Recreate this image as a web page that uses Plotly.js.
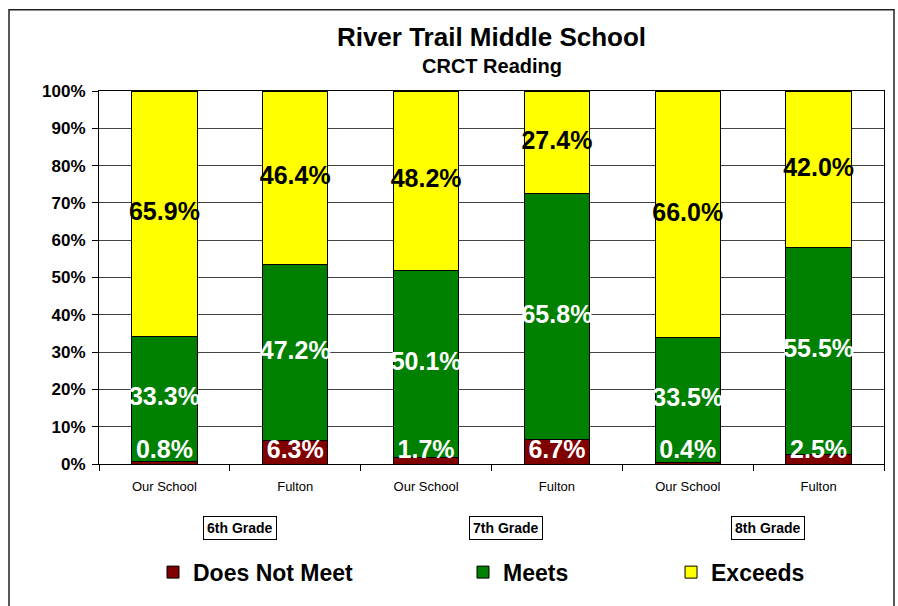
<!DOCTYPE html>
<html>
<head>
<meta charset="utf-8">
<script src="https://cdn.plot.ly/plotly-3.0.1.min.js"></script>
<style>html,body{margin:0;padding:0;background:#fff;}#chart{width:898px;height:606px;}</style>
</head>
<body>
<div id="chart"></div>
<script>
const grades = ['6th Grade', '6th Grade', '7th Grade', '7th Grade', '8th Grade', '8th Grade'];
const schools = ['Our School', 'Fulton', 'Our School', 'Fulton', 'Our School', 'Fulton'];
const doesNotMeet = [0.8, 6.3, 1.7, 6.7, 0.4, 2.5];
const meets = [33.3, 47.2, 50.1, 65.8, 33.5, 55.5];
const exceeds = [65.9, 46.4, 48.2, 27.4, 66.0, 42.0];
const gradeLabels = ['6th Grade', '7th Grade', '8th Grade'];

const FONT = 'Liberation Sans, Arial, sans-serif';
const xKeys = grades.map((g, i) => g + ' | ' + schools[i]);
const fmt = v => v.toFixed(1) + '%';

function barTrace(name, vals, color, legendId) {
  return {
    type: 'bar', name: name, x: xKeys, y: vals,
    marker: {color: color, line: {color: '#000', width: 1}},
    textposition: 'none', hoverinfo: 'skip', legend: legendId
  };
}

function labelTrace(yVals, vals, color, pos) {
  return {
    type: 'scatter', mode: 'text', x: xKeys, y: yVals, text: vals.map(fmt),
    textposition: pos, showlegend: false, hoverinfo: 'skip', cliponaxis: false,
    textfont: {family: FONT, size: 25, weight: 'bold', color: color}
  };
}

const meetsMid = meets.map((v, i) => doesNotMeet[i] + v / 2);
const exceedsMid = exceeds.map((v, i) => doesNotMeet[i] + meets[i] + v / 2);

const data = [
  barTrace('Does Not Meet', doesNotMeet, '#800000', 'legend'),
  barTrace('Meets', meets, '#008000', 'legend2'),
  barTrace('Exceeds', exceeds, '#ffff00', 'legend3'),
  labelTrace(doesNotMeet.map(() => 0), doesNotMeet, '#ffffff', 'top center'),
  labelTrace(meetsMid, meets, '#ffffff', 'middle center'),
  labelTrace(exceedsMid, exceeds, '#000000', 'middle center')
];

const legendBase = {orientation: 'h', yref: 'paper', y: -0.29, yanchor: 'middle', xanchor: 'left',
  bgcolor: 'rgba(0,0,0,0)', borderwidth: 0,
  font: {family: FONT, size: 23, weight: 'bold', color: '#000'}};

const gradeX = [0.18, 0.518, 0.852];
const annotations = gradeLabels.map((g, i) => ({
  text: '<b>' + g + '</b>', xref: 'paper', yref: 'paper', x: gradeX[i], y: -0.172,
  xanchor: 'center', yanchor: 'middle', showarrow: false,
  font: {family: FONT, size: 14, color: '#000'},
  bordercolor: '#000', borderwidth: 1, borderpad: 3, bgcolor: '#fff'
}));
annotations.push({
  text: '<b>CRCT Reading</b>', xref: 'paper', yref: 'paper', x: 0.5, y: 1.0665,
  xanchor: 'center', yanchor: 'middle', showarrow: false,
  font: {family: FONT, size: 20, color: '#000'}
});

const layout = {
  width: 898, height: 606,
  margin: {l: 99, r: 14, t: 91, b: 139, pad: 0},
  paper_bgcolor: '#fff', plot_bgcolor: '#fff',
  barmode: 'stack', bargap: 0.5,
  title: {text: '<b>River Trail Middle School</b>', x: 0.5, xanchor: 'center', xref: 'paper',
    y: 1 - 37 / 606, yref: 'container', yanchor: 'middle',
    font: {family: FONT, size: 26, color: '#000'}},
  xaxis: {
    type: 'category', tickmode: 'array', tickvals: xKeys, ticktext: schools,
    tickson: 'boundaries', ticks: 'outside', ticklen: 6, tickcolor: '#000', tickwidth: 1,
    showline: true, linecolor: '#000', linewidth: 1, mirror: true, showgrid: false,
    ticklabelstandoff: 10,
    tickfont: {family: FONT, size: 13, color: '#000'}, fixedrange: true
  },
  yaxis: {
    range: [0, 100], dtick: 10, ticksuffix: '%', ticks: 'outside', ticklen: 6,
    tickcolor: '#000', tickwidth: 1, showline: true, linecolor: '#000', linewidth: 1, mirror: true,
    showgrid: true, gridcolor: '#444', gridwidth: 1, zeroline: false,
    ticklabelstandoff: 3,
    tickfont: {family: FONT, size: 17, weight: 'bold', color: '#000'}, fixedrange: true
  },
  legend: Object.assign({}, legendBase, {x: 0.0688}),
  legend2: Object.assign({}, legendBase, {x: 0.4637}),
  legend3: Object.assign({}, legendBase, {x: 0.7287}),
  annotations: annotations,
  shapes: [{
    type: 'rect', xref: 'paper', yref: 'paper',
    x0: (9 - 99) / 785, x1: (894 - 99) / 785, y0: -0.45, y1: (467 - 9) / 376,
    line: {color: '#222', width: 1.5}, fillcolor: 'rgba(0,0,0,0)', layer: 'below'
  }],
  showlegend: true
};

Plotly.newPlot('chart', data, layout, {displayModeBar: false, staticPlot: true});
</script>
</body>
</html>
